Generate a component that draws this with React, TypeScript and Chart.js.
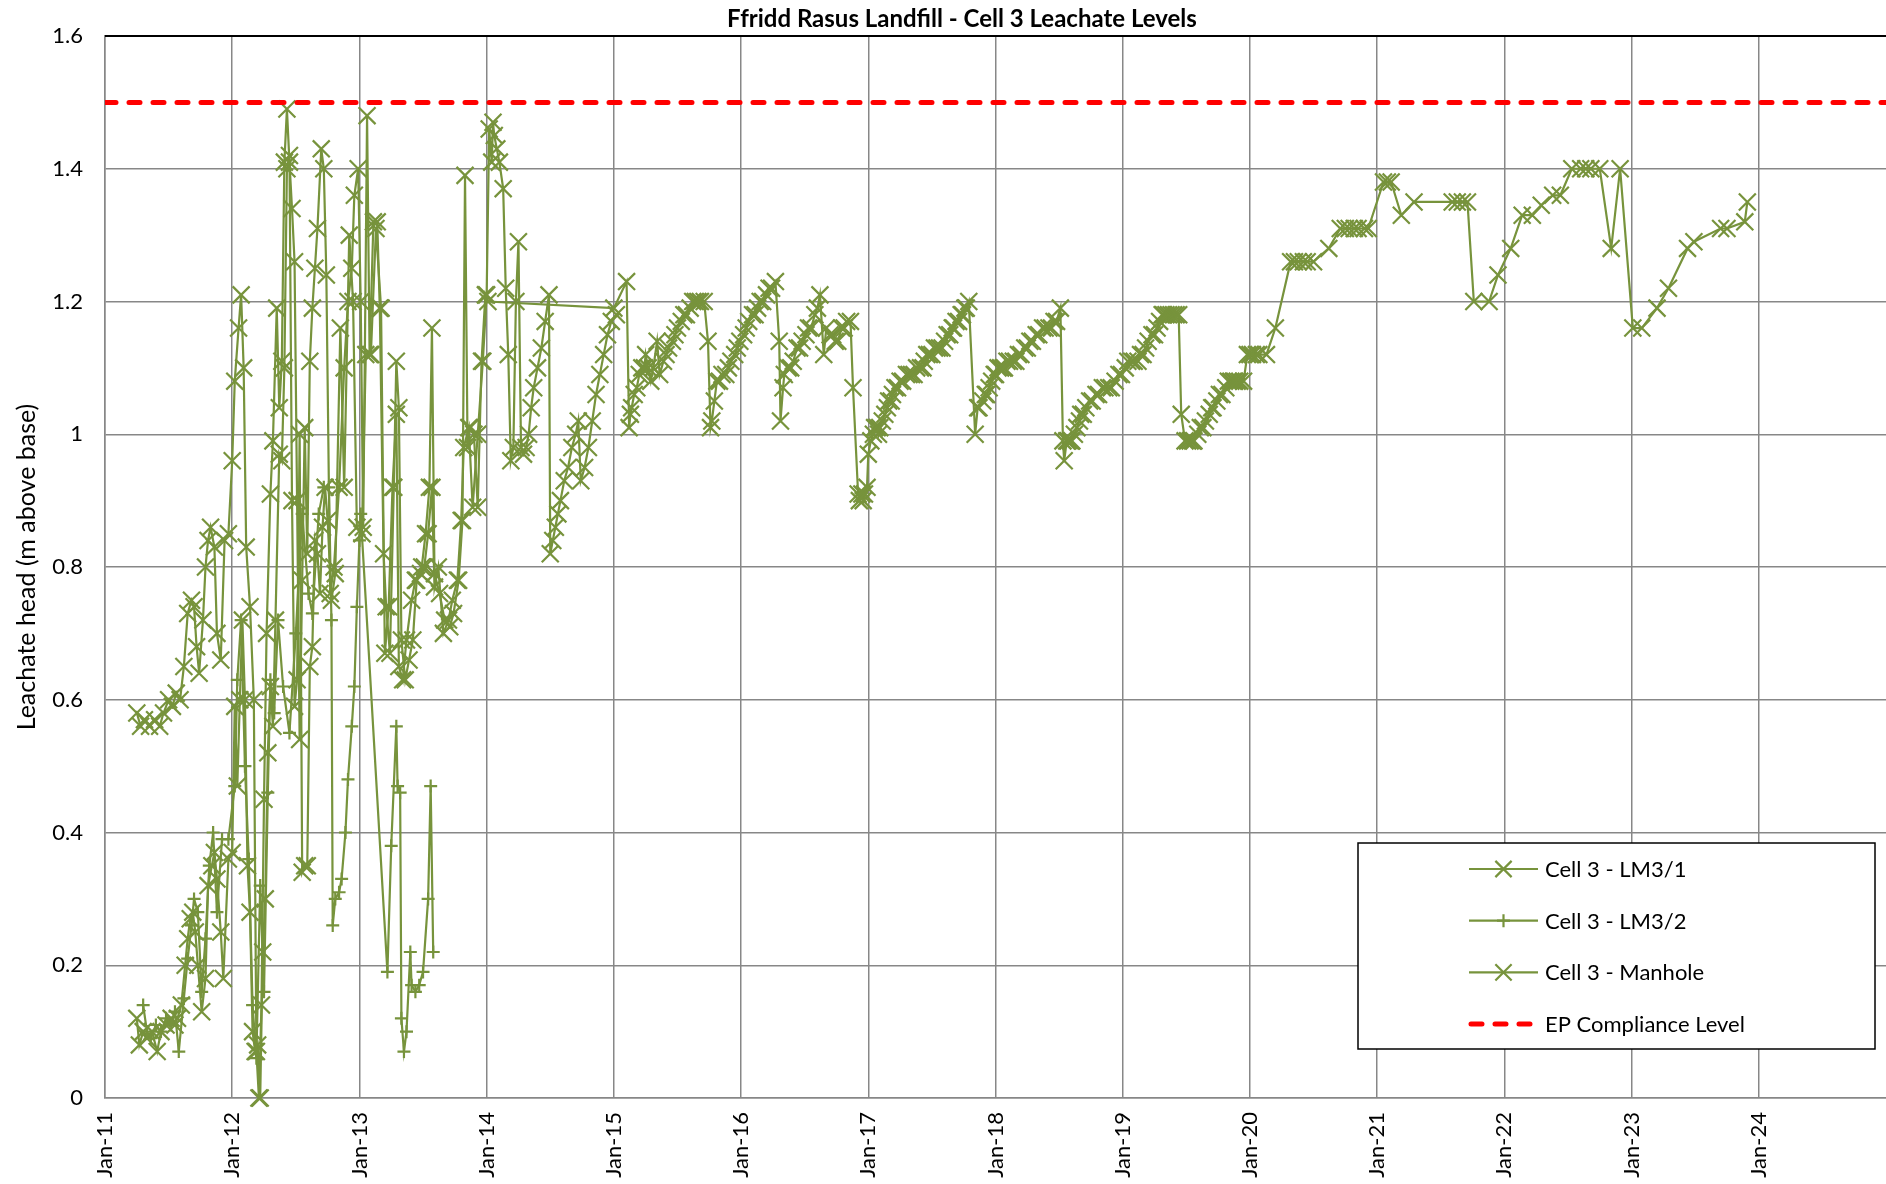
import React, { useEffect, useRef } from "react";
import { Chart, registerables } from "chart.js";

Chart.register(...registerables);

const OLIVE = "#77933C";
const RED = "#FF0000";
const FONT = "Lato, 'Open Sans', sans-serif";

const chartTitle = "Ffridd Rasus Landfill - Cell 3 Leachate Levels";
const yAxisTitle = "Leachate head (m above base)";
const seriesNames = ["Cell 3 - LM3/1", "Cell 3 - LM3/2", "Cell 3 - Manhole", "EP Compliance Level"];

const tickYears = [2011, 2012, 2013, 2014, 2015, 2016, 2017, 2018, 2019, 2020, 2021, 2022, 2023, 2024];
const tickLabels = ["Jan-11", "Jan-12", "Jan-13", "Jan-14", "Jan-15", "Jan-16", "Jan-17", "Jan-18", "Jan-19", "Jan-20", "Jan-21", "Jan-22", "Jan-23", "Jan-24"];
const yTicks = [0, 0.2, 0.4, 0.6, 0.8, 1.0, 1.2, 1.4, 1.6];
const complianceLevel = 1.5;
const xRange = [2011, 2025];

// readings: [time in decimal years, leachate head in m above base]
const lm31Readings: [number, number][] = [
  [2011.25, 0.58], [2011.28, 0.56], [2011.31, 0.57], [2011.35, 0.56], [2011.39, 0.57], [2011.43, 0.56], [2011.46, 0.58], [2011.5, 0.6], [2011.53, 0.59], [2011.56, 0.61], [2011.59, 0.6], [2011.62, 0.65], [2011.65, 0.73], [2011.68, 0.75], [2011.7, 0.74], [2011.72, 0.68], [2011.74, 0.64], [2011.77, 0.72], [2011.79, 0.8], [2011.81, 0.84], [2011.83, 0.86], [2011.86, 0.83], [2011.88, 0.7], [2011.91, 0.66], [2011.94, 0.84], [2011.97, 0.85],
  [2012.0, 0.96], [2012.02, 1.08], [2012.05, 1.16], [2012.07, 1.21], [2012.09, 1.1], [2012.11, 0.83], [2012.14, 0.74], [2012.17, 0.6], [2012.19, 0.07], [2012.21, 0.0], [2012.23, 0.14], [2012.25, 0.45], [2012.27, 0.7], [2012.3, 0.91], [2012.32, 0.99], [2012.35, 1.19], [2012.37, 1.04], [2012.39, 1.11], [2012.41, 1.41], [2012.43, 1.49], [2012.45, 1.41], [2012.47, 1.34], [2012.49, 1.26], [2012.51, 0.9], [2012.53, 0.54], [2012.55, 0.78], [2012.57, 1.01], [2012.59, 0.82], [2012.61, 1.11], [2012.63, 1.19], [2012.65, 1.25], [2012.67, 1.31], [2012.7, 1.43], [2012.72, 1.4], [2012.74, 1.24], [2012.77, 0.76], [2012.8, 0.8], [2012.84, 0.92], [2012.88, 1.1], [2012.91, 1.2], [2012.94, 1.25], [2012.96, 1.36], [2012.99, 1.4],
  [2013.01, 1.2], [2013.03, 0.86], [2013.06, 1.48], [2013.08, 1.12], [2013.11, 1.32], [2013.14, 1.32], [2013.16, 1.19], [2013.19, 0.82], [2013.21, 0.74], [2013.24, 0.67], [2013.27, 0.92], [2013.29, 1.11], [2013.31, 1.04], [2013.33, 0.69], [2013.36, 0.63], [2013.39, 0.66], [2013.42, 0.69], [2013.45, 0.78], [2013.49, 0.8], [2013.52, 0.85], [2013.55, 0.92], [2013.57, 1.16], [2013.59, 0.79], [2013.63, 0.76], [2013.67, 0.72], [2013.71, 0.71], [2013.74, 0.73], [2013.78, 0.78], [2013.81, 0.87], [2013.83, 1.39], [2013.85, 0.98], [2013.87, 1.01], [2013.9, 1.0], [2013.93, 0.89], [2013.96, 1.11], [2013.99, 1.21], [2014.01, 1.2],
  [2015.0, 1.19], [2015.1, 1.23], [2015.12, 1.01], [2015.13, 1.03], [2015.14, 1.04], [2015.16, 1.06], [2015.18, 1.07], [2015.2, 1.09], [2015.22, 1.1], [2015.24, 1.1], [2015.25, 1.12], [2015.27, 1.1], [2015.29, 1.08], [2015.31, 1.1], [2015.34, 1.14], [2015.36, 1.09], [2015.39, 1.11], [2015.41, 1.12], [2015.43, 1.13], [2015.46, 1.14], [2015.48, 1.15], [2015.5, 1.16], [2015.53, 1.17], [2015.55, 1.18], [2015.57, 1.18], [2015.6, 1.19], [2015.62, 1.2], [2015.64, 1.2], [2015.66, 1.2], [2015.68, 1.2], [2015.71, 1.2], [2015.74, 1.14], [2015.76, 1.01], [2015.77, 1.02], [2015.79, 1.05], [2015.81, 1.08], [2015.83, 1.08], [2015.85, 1.09], [2015.88, 1.09], [2015.9, 1.1], [2015.92, 1.11], [2015.95, 1.12], [2015.97, 1.13], [2015.99, 1.14],
  [2016.02, 1.15], [2016.04, 1.16], [2016.06, 1.17], [2016.09, 1.18], [2016.11, 1.18], [2016.13, 1.19], [2016.15, 1.2], [2016.17, 1.2], [2016.2, 1.21], [2016.22, 1.22], [2016.24, 1.22], [2016.27, 1.23], [2016.3, 1.14], [2016.31, 1.02], [2016.33, 1.07], [2016.34, 1.09], [2016.37, 1.1], [2016.39, 1.1], [2016.41, 1.11], [2016.44, 1.13], [2016.46, 1.13], [2016.48, 1.14], [2016.51, 1.15], [2016.53, 1.16], [2016.55, 1.16], [2016.58, 1.18], [2016.6, 1.19], [2016.62, 1.21], [2016.65, 1.12], [2016.67, 1.16], [2016.7, 1.15], [2016.72, 1.15], [2016.74, 1.14], [2016.76, 1.14], [2016.79, 1.16], [2016.81, 1.16], [2016.83, 1.17], [2016.86, 1.17], [2016.88, 1.07], [2016.92, 0.91], [2016.93, 0.9], [2016.95, 0.91], [2016.96, 0.9], [2016.97, 0.91], [2016.99, 0.92],
  [2017.0, 0.97], [2017.02, 0.99], [2017.04, 1.0], [2017.05, 1.01], [2017.07, 1.01], [2017.08, 1.0], [2017.09, 1.01], [2017.11, 1.02], [2017.13, 1.03], [2017.15, 1.04], [2017.16, 1.05], [2017.18, 1.05], [2017.19, 1.06], [2017.21, 1.07], [2017.23, 1.07], [2017.25, 1.08], [2017.27, 1.08], [2017.3, 1.09], [2017.32, 1.09], [2017.34, 1.09], [2017.36, 1.09], [2017.38, 1.1], [2017.41, 1.1], [2017.43, 1.1], [2017.44, 1.11], [2017.46, 1.12], [2017.48, 1.12], [2017.5, 1.12], [2017.52, 1.13], [2017.54, 1.13], [2017.56, 1.13], [2017.58, 1.13], [2017.6, 1.14], [2017.62, 1.15], [2017.64, 1.15], [2017.66, 1.16], [2017.67, 1.16], [2017.69, 1.17], [2017.71, 1.17], [2017.73, 1.18], [2017.74, 1.18], [2017.76, 1.19], [2017.77, 1.19], [2017.79, 1.2], [2017.84, 1.0], [2017.86, 1.04], [2017.87, 1.04], [2017.9, 1.05], [2017.92, 1.06], [2017.93, 1.06], [2017.95, 1.07], [2017.97, 1.08], [2017.99, 1.09],
  [2018.0, 1.09], [2018.02, 1.1], [2018.04, 1.1], [2018.06, 1.1], [2018.07, 1.1], [2018.09, 1.11], [2018.11, 1.11], [2018.14, 1.11], [2018.16, 1.11], [2018.18, 1.12], [2018.2, 1.12], [2018.23, 1.13], [2018.25, 1.13], [2018.27, 1.14], [2018.29, 1.14], [2018.32, 1.15], [2018.34, 1.15], [2018.37, 1.16], [2018.39, 1.16], [2018.42, 1.16], [2018.44, 1.16], [2018.46, 1.17], [2018.48, 1.17], [2018.51, 1.19], [2018.53, 0.99], [2018.54, 0.96], [2018.56, 0.99], [2018.57, 0.99], [2018.59, 0.99], [2018.6, 0.99], [2018.62, 1.0], [2018.64, 1.01], [2018.66, 1.02], [2018.67, 1.03], [2018.69, 1.03], [2018.71, 1.04], [2018.74, 1.05], [2018.76, 1.05], [2018.79, 1.06], [2018.81, 1.06], [2018.84, 1.07], [2018.86, 1.07], [2018.89, 1.07], [2018.91, 1.07], [2018.94, 1.08], [2018.97, 1.09], [2018.99, 1.09],
  [2019.02, 1.1], [2019.04, 1.11], [2019.07, 1.11], [2019.09, 1.11], [2019.12, 1.11], [2019.14, 1.12], [2019.16, 1.12], [2019.18, 1.13], [2019.2, 1.14], [2019.23, 1.15], [2019.25, 1.15], [2019.27, 1.16], [2019.29, 1.17], [2019.31, 1.18], [2019.32, 1.18], [2019.34, 1.18], [2019.36, 1.18], [2019.38, 1.18], [2019.4, 1.18], [2019.42, 1.18], [2019.44, 1.18], [2019.46, 1.03], [2019.49, 0.99], [2019.51, 0.99], [2019.53, 0.99], [2019.55, 0.99], [2019.56, 0.99], [2019.59, 1.0], [2019.61, 1.01], [2019.63, 1.01], [2019.65, 1.02], [2019.68, 1.03], [2019.7, 1.04], [2019.71, 1.04], [2019.74, 1.05], [2019.76, 1.06], [2019.78, 1.06], [2019.81, 1.07], [2019.83, 1.08], [2019.85, 1.08], [2019.87, 1.08], [2019.88, 1.08], [2019.9, 1.08], [2019.92, 1.08], [2019.95, 1.08], [2019.98, 1.12],
  [2020.0, 1.12], [2020.02, 1.12], [2020.05, 1.12], [2020.07, 1.12], [2020.13, 1.12], [2020.2, 1.16], [2020.32, 1.26], [2020.35, 1.26], [2020.38, 1.26], [2020.42, 1.26], [2020.45, 1.26], [2020.5, 1.26], [2020.62, 1.28], [2020.71, 1.31], [2020.75, 1.31], [2020.78, 1.31], [2020.82, 1.31], [2020.85, 1.31], [2020.9, 1.31], [2020.93, 1.31],
  [2021.05, 1.38], [2021.08, 1.38], [2021.11, 1.38], [2021.19, 1.33], [2021.29, 1.35], [2021.59, 1.35], [2021.63, 1.35], [2021.67, 1.35], [2021.71, 1.35], [2021.76, 1.2], [2021.88, 1.2], [2021.95, 1.24],
  [2022.05, 1.28], [2022.14, 1.33], [2022.22, 1.33], [2022.29, 1.345], [2022.38, 1.36], [2022.44, 1.36], [2022.53, 1.4], [2022.6, 1.4], [2022.64, 1.4], [2022.68, 1.4], [2022.75, 1.4], [2022.84, 1.28], [2022.91, 1.4],
  [2023.01, 1.16], [2023.08, 1.16], [2023.2, 1.19], [2023.29, 1.22], [2023.44, 1.28], [2023.49, 1.29], [2023.7, 1.31], [2023.75, 1.31], [2023.89, 1.32], [2023.91, 1.35],
];

const lm32Readings: [number, number][] = [
  [2011.3, 0.14], [2011.33, 0.1], [2011.36, 0.09], [2011.4, 0.11], [2011.44, 0.1], [2011.48, 0.12], [2011.52, 0.11], [2011.55, 0.13], [2011.58, 0.07], [2011.62, 0.15], [2011.65, 0.21], [2011.68, 0.26], [2011.7, 0.3], [2011.73, 0.28], [2011.76, 0.16], [2011.79, 0.24], [2011.82, 0.35], [2011.85, 0.4], [2011.88, 0.28], [2011.92, 0.39], [2011.97, 0.39],
  [2012.02, 0.47], [2012.04, 0.63], [2012.07, 0.72], [2012.1, 0.5], [2012.13, 0.36], [2012.16, 0.14], [2012.19, 0.06], [2012.22, 0.32], [2012.25, 0.16], [2012.28, 0.46], [2012.3, 0.63], [2012.33, 0.58], [2012.36, 0.72], [2012.4, 0.62], [2012.45, 0.55], [2012.5, 0.7], [2012.55, 0.88], [2012.6, 0.76], [2012.63, 0.73], [2012.68, 0.88], [2012.72, 0.92], [2012.76, 0.92], [2012.78, 0.72], [2012.79, 0.26], [2012.81, 0.3], [2012.84, 0.31], [2012.86, 0.33], [2012.89, 0.4], [2012.91, 0.48], [2012.94, 0.56], [2012.96, 0.62], [2012.98, 0.74],
  [2013.0, 0.84], [2013.01, 0.88], [2013.22, 0.19], [2013.25, 0.38], [2013.29, 0.56], [2013.3, 0.47], [2013.32, 0.46], [2013.33, 0.12], [2013.35, 0.07], [2013.37, 0.1], [2013.4, 0.22], [2013.41, 0.17], [2013.44, 0.16], [2013.47, 0.17], [2013.5, 0.19], [2013.54, 0.3], [2013.56, 0.47], [2013.58, 0.22],
];

const manholeReadings: [number, number][] = [
  [2011.25, 0.12], [2011.27, 0.08], [2011.3, 0.1], [2011.33, 0.09], [2011.37, 0.1], [2011.41, 0.07], [2011.44, 0.1], [2011.48, 0.11], [2011.52, 0.12], [2011.55, 0.11], [2011.57, 0.12], [2011.6, 0.14], [2011.63, 0.2], [2011.65, 0.24], [2011.67, 0.27], [2011.69, 0.28], [2011.71, 0.25], [2011.73, 0.2], [2011.76, 0.13], [2011.79, 0.18], [2011.81, 0.32], [2011.84, 0.35], [2011.86, 0.37], [2011.88, 0.33], [2011.91, 0.25], [2011.93, 0.18], [2011.97, 0.36],
  [2012.0, 0.37], [2012.02, 0.59], [2012.04, 0.47], [2012.06, 0.6], [2012.08, 0.72], [2012.1, 0.6], [2012.12, 0.35], [2012.14, 0.28], [2012.16, 0.1], [2012.18, 0.07], [2012.2, 0.08], [2012.22, 0.0], [2012.24, 0.22], [2012.26, 0.3], [2012.28, 0.52], [2012.3, 0.62], [2012.32, 0.56], [2012.34, 0.72], [2012.37, 0.97], [2012.39, 0.96], [2012.41, 1.1], [2012.43, 1.4], [2012.45, 1.42], [2012.47, 0.9], [2012.49, 0.59], [2012.51, 0.63], [2012.53, 1.0], [2012.55, 0.34], [2012.57, 0.35], [2012.59, 0.35], [2012.61, 0.65], [2012.63, 0.68], [2012.65, 0.84], [2012.67, 0.82], [2012.69, 0.76], [2012.71, 0.86], [2012.73, 0.92], [2012.75, 0.87], [2012.78, 0.75], [2012.81, 0.79], [2012.85, 1.16], [2012.88, 0.92], [2012.92, 1.3], [2012.95, 1.2], [2012.98, 0.86],
  [2013.02, 0.85], [2013.05, 1.12], [2013.09, 1.12], [2013.13, 1.31], [2013.17, 1.19], [2013.2, 0.67], [2013.23, 0.74], [2013.26, 0.92], [2013.29, 1.03], [2013.31, 0.65], [2013.34, 0.63], [2013.37, 0.69], [2013.41, 0.75], [2013.44, 0.78], [2013.48, 0.79], [2013.51, 0.8], [2013.54, 0.85], [2013.57, 0.92], [2013.59, 0.77], [2013.62, 0.8], [2013.66, 0.7], [2013.7, 0.72], [2013.73, 0.75], [2013.77, 0.78], [2013.8, 0.87], [2013.82, 0.98], [2013.86, 1.01], [2013.89, 0.89], [2013.93, 1.0], [2013.97, 1.11],
  [2014.0, 1.21], [2014.02, 1.46], [2014.04, 1.41], [2014.05, 1.47], [2014.06, 1.45], [2014.08, 1.43], [2014.1, 1.41], [2014.13, 1.37], [2014.15, 1.22], [2014.17, 1.12], [2014.19, 0.96], [2014.21, 0.98], [2014.23, 1.2], [2014.25, 1.29], [2014.27, 0.98], [2014.29, 0.97], [2014.31, 0.98], [2014.33, 1.0], [2014.35, 1.04], [2014.37, 1.07], [2014.4, 1.1], [2014.43, 1.13], [2014.46, 1.17], [2014.49, 1.21], [2014.5, 0.82], [2014.52, 0.84], [2014.54, 0.86], [2014.56, 0.88], [2014.58, 0.9], [2014.61, 0.93], [2014.64, 0.95], [2014.67, 0.98], [2014.7, 1.0], [2014.72, 1.02], [2014.74, 0.93], [2014.77, 0.95], [2014.8, 0.98], [2014.83, 1.02], [2014.86, 1.06], [2014.89, 1.09], [2014.92, 1.12], [2014.95, 1.15], [2014.98, 1.17], [2015.02, 1.18],
];

const toPoints = (r: [number, number][]) => r.map(([x, y]) => ({ x, y }));

const drawMarker = (ctx: CanvasRenderingContext2D, style: string, x: number, y: number, r: number) => {
  const o = style === "crossRot" ? r * Math.SQRT1_2 : r;
  ctx.beginPath();
  if (style === "crossRot") {
    ctx.moveTo(x - o, y - o); ctx.lineTo(x + o, y + o);
    ctx.moveTo(x - o, y + o); ctx.lineTo(x + o, y - o);
  } else {
    ctx.moveTo(x - o, y); ctx.lineTo(x + o, y);
    ctx.moveTo(x, y - o); ctx.lineTo(x, y + o);
  }
  ctx.stroke();
};

const decorPlugin = {
  id: "decor",
  afterDraw(chart: any) {
    const ctx: CanvasRenderingContext2D = chart.ctx;
    const a = chart.chartArea;
    ctx.save();
    ctx.strokeStyle = "#000";
    ctx.lineWidth = 2;
    ctx.beginPath();
    ctx.moveTo(a.left, a.top);
    ctx.lineTo(a.right, a.top);
    ctx.stroke();
    ctx.fillStyle = "#000";
    ctx.font = `bold 24px ${FONT}`;
    ctx.textAlign = "center";
    ctx.textBaseline = "middle";
    ctx.fillText(chartTitle, 962, 19);
    const bx = 1358, by = 843, bw = 517, bh = 206;
    ctx.fillStyle = "#fff";
    ctx.fillRect(bx, by, bw, bh);
    ctx.strokeStyle = "#000";
    ctx.lineWidth = 1.5;
    ctx.strokeRect(bx, by, bw, bh);
    const styles = ["crossRot", "cross", "crossRot", "dash"];
    ctx.font = `22px ${FONT}`;
    ctx.textAlign = "left";
    ctx.textBaseline = "middle";
    seriesNames.forEach((name, i) => {
      const y = 869 + i * 51.7;
      const x0 = 1469, x1 = 1538;
      if (styles[i] === "dash") {
        ctx.strokeStyle = RED;
        ctx.lineWidth = 5;
        ctx.lineCap = "round";
        ctx.setLineDash([11, 13]);
        ctx.beginPath();
        ctx.moveTo(x0 + 2, y);
        ctx.lineTo(x1, y);
        ctx.stroke();
        ctx.setLineDash([]);
        ctx.lineCap = "butt";
      } else {
        ctx.strokeStyle = OLIVE;
        ctx.lineWidth = 2.2;
        ctx.beginPath();
        ctx.moveTo(x0, y);
        ctx.lineTo(x1, y);
        ctx.stroke();
        drawMarker(ctx, styles[i], (x0 + x1) / 2, y, styles[i] === "cross" ? 6.5 : 11.5);
      }
      ctx.fillStyle = "#000";
      ctx.fillText(name, 1545, y + 1);
    });
    ctx.restore();
  },
};

export default function App() {
  const ref = useRef<HTMLCanvasElement | null>(null);

  useEffect(() => {
    if (!ref.current) return;
    const seriesStyle = {
      borderColor: OLIVE,
      backgroundColor: OLIVE,
      pointBorderColor: OLIVE,
      pointBackgroundColor: OLIVE,
      borderWidth: 2.2,
      pointBorderWidth: 2.2,
      tension: 0,
      clip: false as const,
    };
    const chart = new Chart(ref.current, {
      type: "line",
      data: {
        datasets: [
          {
            label: seriesNames[3],
            data: xRange.map((x) => ({ x, y: complianceLevel })),
            borderColor: RED,
            borderWidth: 5,
            borderDash: [11, 13],
            borderCapStyle: "round",
            pointRadius: 0,
            order: 0,
          },
          { label: seriesNames[0], data: toPoints(lm31Readings), pointStyle: "crossRot", pointRadius: 12, order: 1, ...seriesStyle },
          { label: seriesNames[1], data: toPoints(lm32Readings), pointStyle: "cross", pointRadius: 6.5, order: 2, ...seriesStyle },
          { label: seriesNames[2], data: toPoints(manholeReadings), pointStyle: "crossRot", pointRadius: 12, order: 3, ...seriesStyle },
        ] as any,
      },
      options: {
        animation: false,
        responsive: false,
        events: [],
        layout: { autoPadding: false, padding: { top: 36, right: 0, bottom: 0, left: 0 } },
        plugins: { legend: { display: false }, title: { display: false }, tooltip: { enabled: false } },
        scales: {
          x: {
            type: "linear",
            min: xRange[0],
            max: xRange[1],
            afterBuildTicks: (s: any) => {
              s.ticks = tickYears.map((value) => ({ value }));
            },
            afterFit: (s: any) => {
              s.height = 86;
            },
            grid: { color: "#878787", lineWidth: 1.5, drawTicks: false },
            border: { display: true, color: "#878787", width: 1.5 },
            ticks: {
              autoSkip: false,
              minRotation: 90,
              maxRotation: 90,
              padding: 14,
              color: "#000",
              font: { family: FONT, size: 22 },
              callback: (v: any) => tickLabels[tickYears.indexOf(Number(v))] ?? "",
            },
          },
          y: {
            type: "linear",
            min: 0,
            max: 1.6,
            afterBuildTicks: (s: any) => {
              s.ticks = yTicks.map((value) => ({ value }));
            },
            afterFit: (s: any) => {
              s.width = 105;
            },
            grid: { color: "#878787", lineWidth: 1.5, drawTicks: false },
            border: { display: true, color: "#878787", width: 1.5 },
            ticks: {
              padding: 22,
              color: "#000",
              font: { family: FONT, size: 22 },
              callback: (v: any) => String(Number(Number(v).toFixed(1))),
            },
            title: {
              display: true,
              text: yAxisTitle,
              color: "#000",
              font: { family: FONT, size: 25 },
              padding: { top: 12, bottom: 0 },
            },
          },
        },
      },
      plugins: [decorPlugin],
    });
    return () => chart.destroy();
  }, []);

  return (
    <div style={{ position: "fixed", left: 0, top: 0, width: 1886, height: 1184, background: "#fff" }}>
      <canvas ref={ref} width={1886} height={1184} style={{ display: "block" }} />
    </div>
  );
}
